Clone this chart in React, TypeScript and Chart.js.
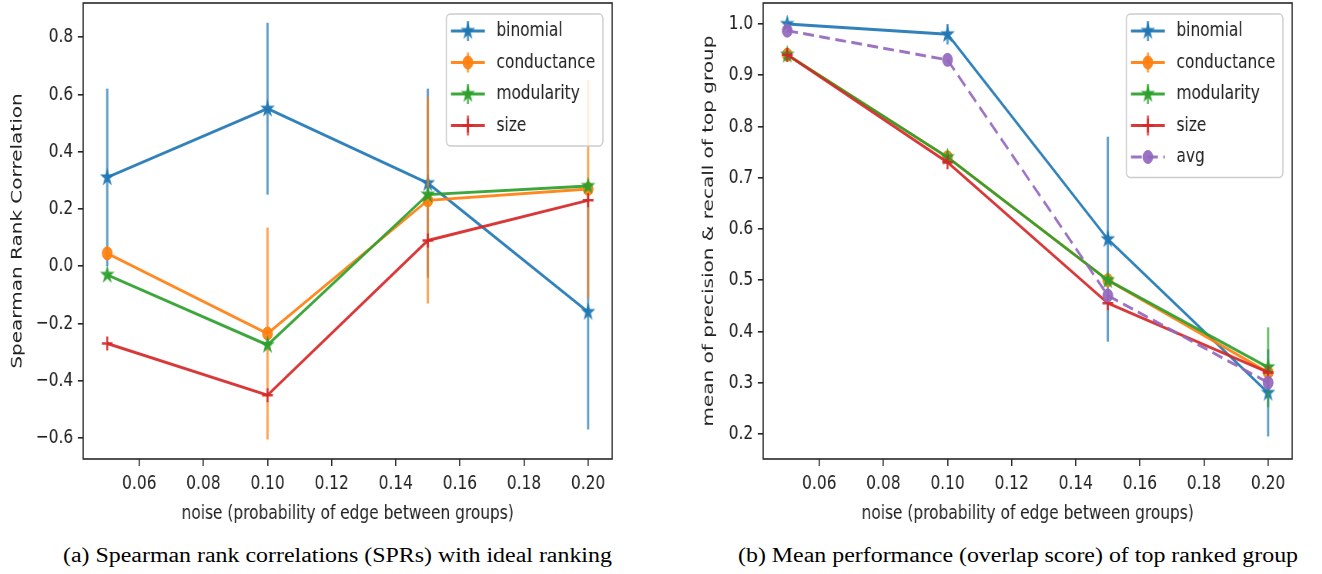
import React, { useEffect, useRef } from 'react';
import { Chart, registerables } from 'chart.js';

Chart.register(...registerables);

// horizontal squish of the reference figure
const SQUISH = 0.77;
const CANVAS_H = 530;

// ---------- data ----------
const noiseLevels = [0.05, 0.1, 0.15, 0.2];
const xTickStep = 0.02;

// (a) Spearman rank correlation
const sprBinomial = [0.31, 0.55, 0.29, -0.16];
const sprBinomialErr = [0.31, 0.3, 0.33, 0.41];
const sprConductance = [0.045, -0.235, 0.23, 0.27];
const sprConductanceErr = [0, 0.37, 0.36, 0.38];
const sprModularity = [-0.03, -0.275, 0.25, 0.28];
const sprModularityErr = [0, 0, 0, 0];
const sprSize = [-0.27, -0.45, 0.09, 0.23];
const sprSizeErr = [0, 0, 0, 0];
const sprYRange = [-0.673, 0.919];
const sprYStep = 0.2;

// (b) mean of precision & recall of top group
const perfBinomial = [1.0, 0.98, 0.58, 0.28];
const perfBinomialErr = [0, 0.02, 0.2, 0.085];
const perfConductance = [0.94, 0.74, 0.5, 0.32];
const perfConductanceErr = [0, 0, 0.005, 0.01];
const perfModularity = [0.94, 0.74, 0.5, 0.33];
const perfModularityErr = [0, 0, 0, 0.078];
const perfSize = [0.94, 0.73, 0.455, 0.32];
const perfSizeErr = [0, 0, 0, 0];
const perfAvg = [0.987, 0.93, 0.47, 0.3];
const perfYRange = [0.151, 1.041];
const perfYStep = 0.1;

const xRange = [0.0425, 0.2075];

const BLUE = '31,119,180';
const ORANGE = '255,127,14';
const GREEN = '44,160,44';
const RED = '214,39,40';
const PURPLE = '148,103,189';

const rgba = (c: string, a: number) => `rgba(${c},${a})`;
const FONT = '"DejaVu Sans", sans-serif';
const TEXT = '#222';

function starImage(color: string, R: number) {
  const size = Math.ceil(2 * R + 4);
  const c = document.createElement('canvas');
  c.width = size;
  c.height = size;
  const g = c.getContext('2d')!;
  g.translate(size / 2, size / 2);
  g.beginPath();
  for (let i = 0; i < 10; i++) {
    const r = i % 2 === 0 ? R : R * 0.381966;
    const a = -Math.PI / 2 + (i * Math.PI) / 5;
    g.lineTo(r * Math.cos(a), r * Math.sin(a));
  }
  g.closePath();
  g.fillStyle = color;
  g.fill();
  g.lineWidth = 1.5;
  g.strokeStyle = color;
  g.stroke();
  return c;
}

function fmtTick(v: number, d: number) {
  const s = Math.abs(v).toFixed(d);
  return v < -1e-9 ? '\u2212' + s : s;
}

function drawMarker(ctx: CanvasRenderingContext2D, ds: any, x: number, y: number) {
  const st = ds.pointStyle;
  if (st && typeof st === 'object') {
    ctx.drawImage(st, x - st.width / 2, y - st.height / 2);
    return;
  }
  ctx.save();
  ctx.fillStyle = ds.pointBackgroundColor;
  ctx.strokeStyle = ds.pointBorderColor;
  ctx.lineWidth = ds.pointBorderWidth;
  ctx.setLineDash([]);
  const r = ds.pointRadius;
  if (st === 'circle') {
    ctx.beginPath();
    ctx.arc(x, y, r, 0, Math.PI * 2);
    ctx.fill();
    ctx.stroke();
  } else if (st === 'cross') {
    ctx.beginPath();
    ctx.moveTo(x - r, y);
    ctx.lineTo(x + r, y);
    ctx.moveTo(x, y - r);
    ctx.lineTo(x, y + r);
    ctx.stroke();
  }
  ctx.restore();
}

const decorPlugin = {
  id: 'decor',
  beforeDatasetDraw(chart: any, args: any) {
    const ds = chart.data.datasets[args.index];
    const errs: number[] | undefined = ds.errs;
    if (!errs) return;
    const xs = chart.scales.x;
    const ys = chart.scales.y;
    const ctx = chart.ctx;
    ctx.save();
    ctx.strokeStyle = ds.errColor;
    ctx.lineWidth = 3;
    ds.data.forEach((p: any, i: number) => {
      const e = errs[i];
      if (!e) return;
      const px = xs.getPixelForValue(p.x);
      ctx.beginPath();
      ctx.moveTo(px, ys.getPixelForValue(p.y - e));
      ctx.lineTo(px, ys.getPixelForValue(p.y + e));
      ctx.stroke();
    });
    ctx.restore();
  },
  afterDraw(chart: any) {
    const ctx: CanvasRenderingContext2D = chart.ctx;
    const area = chart.chartArea;
    // frame (all four spines)
    ctx.save();
    ctx.strokeStyle = '#262626';
    ctx.lineWidth = 1.6;
    ctx.strokeRect(area.left, area.top, area.right - area.left, area.bottom - area.top);
    ctx.restore();

    // legend, upper right inside the axes
    const dss = chart.data.datasets;
    ctx.save();
    ctx.font = `20px ${FONT}`;
    const maxW = Math.max(...dss.map((d: any) => ctx.measureText(d.label).width));
    const padL = 6, handleLen = 44, gap = 15, padR = 10;
    const firstRow = 17, rowGap = 31.5, lastPad = 20.5;
    const w = padL + handleLen + gap + maxW + padR;
    const h = firstRow + (dss.length - 1) * rowGap + lastPad;
    const bx = area.right - 12 - w;
    const by = area.top + 11;
    ctx.beginPath();
    if ((ctx as any).roundRect) (ctx as any).roundRect(bx, by, w, h, 5);
    else ctx.rect(bx, by, w, h);
    ctx.fillStyle = 'rgba(255,255,255,0.8)';
    ctx.fill();
    ctx.strokeStyle = '#cccccc';
    ctx.lineWidth = 1.6;
    ctx.stroke();
    dss.forEach((ds: any, i: number) => {
      const y = by + firstRow + i * rowGap;
      const hx = bx + padL;
      const cx = hx + handleLen / 2;
      ctx.save();
      ctx.strokeStyle = ds.borderColor;
      ctx.lineWidth = 3;
      ctx.setLineDash(ds.borderDash || []);
      ctx.beginPath();
      ctx.moveTo(hx, y);
      ctx.lineTo(hx + handleLen, y);
      ctx.stroke();
      ctx.setLineDash([]);
      if (ds.errs) {
        ctx.strokeStyle = ds.errColor;
        ctx.beginPath();
        ctx.moveTo(cx, y - 10);
        ctx.lineTo(cx, y + 10);
        ctx.stroke();
      }
      ctx.restore();
      drawMarker(ctx, ds, cx, y);
      ctx.fillStyle = TEXT;
      ctx.textBaseline = 'middle';
      ctx.textAlign = 'left';
      ctx.fillText(ds.label, hx + handleLen + gap, y);
    });
    ctx.restore();
  },
};

type Series = {
  label: string;
  values: number[];
  errors?: number[];
  color: string;
  marker: 'star' | 'circle' | 'cross';
  dashed?: boolean;
};

function buildConfig(
  series: Series[],
  yRange: number[],
  yStep: number,
  yTitle: string,
  yTitlePad: number,
  padRight: number
): any {
  return {
    type: 'line',
    data: {
      datasets: series.map((s, i) => {
        const col = rgba(s.color, 0.92);
        const pointStyle =
          s.marker === 'star' ? starImage(col, 7.5) : s.marker === 'circle' ? 'circle' : 'cross';
        return {
          label: s.label,
          data: noiseLevels.map((x, j) => ({ x, y: s.values[j] })),
          errs: s.errors,
          errColor: rgba(s.color, 0.7),
          borderColor: col,
          backgroundColor: col,
          borderWidth: 3,
          borderDash: s.dashed ? [14, 7] : [],
          pointStyle,
          pointRadius: s.marker === 'circle' ? 6.5 : 7,
          pointBorderWidth: s.marker === 'cross' ? 2.5 : 1,
          pointBackgroundColor: col,
          pointBorderColor: col,
          tension: 0,
          fill: false,
          order: series.length - i,
        };
      }),
    },
    options: {
      responsive: false,
      maintainAspectRatio: false,
      animation: false,
      events: [],
      layout: { autoPadding: false, padding: { top: 3, right: padRight, left: 0, bottom: 0 } },
      plugins: { legend: { display: false }, tooltip: { enabled: false } },
      scales: {
        x: {
          type: 'linear',
          position: 'bottom',
          min: xRange[0],
          max: xRange[1],
          border: { display: false },
          grid: { drawOnChartArea: false, drawTicks: true, tickLength: 7, color: '#262626', lineWidth: 1.6 },
          ticks: {
            stepSize: xTickStep,
            includeBounds: false,
            autoSkip: false,
            maxRotation: 0,
            padding: 6,
            color: TEXT,
            font: { size: 20, family: FONT },
            callback: (v: number) => fmtTick(v, 2),
          },
          title: {
            display: true,
            text: 'noise (probability of edge between groups)',
            color: TEXT,
            font: { size: 20, family: FONT },
            padding: { top: 0, bottom: 4 },
          },
          afterFit: (scale: any) => {
            scale.height = 71;
            scale.paddingLeft = 0;
            scale.paddingRight = 0;
          },
        },
        y: {
          type: 'linear',
          position: 'left',
          min: yRange[0],
          max: yRange[1],
          border: { display: false },
          grid: { drawOnChartArea: false, drawTicks: true, tickLength: 7, color: '#262626', lineWidth: 1.6 },
          ticks: {
            stepSize: yStep,
            includeBounds: false,
            autoSkip: false,
            padding: 6,
            color: TEXT,
            font: { size: 20, family: FONT },
            callback: (v: number) => fmtTick(v, 1),
          },
          title: {
            display: true,
            text: yTitle,
            color: TEXT,
            font: { size: 20, family: FONT },
            padding: { top: yTitlePad, bottom: 0 },
          },
          afterFit: (scale: any) => {
            scale.width = 108;
            scale.paddingTop = 0;
            scale.paddingBottom = 0;
          },
        },
      },
    },
    plugins: [decorPlugin],
  };
}

function Panel({ left, width, make }: { left: number; width: number; make: () => any }) {
  const ref = useRef<HTMLCanvasElement>(null);
  useEffect(() => {
    const chart = new Chart(ref.current as HTMLCanvasElement, make());
    return () => chart.destroy();
  }, []);
  return (
    <canvas
      ref={ref}
      width={width}
      height={CANVAS_H}
      style={{
        position: 'absolute',
        left,
        top: 0,
        width,
        height: CANVAS_H,
        transform: `scaleX(${SQUISH})`,
        transformOrigin: '0 0',
      }}
    />
  );
}

const captionStyle: React.CSSProperties = {
  position: 'absolute',
  top: 543,
  fontFamily: '"Liberation Serif", "Times New Roman", serif',
  fontSize: 20,
  lineHeight: '24px',
  whiteSpace: 'nowrap',
  color: '#000',
  transform: 'scaleX(1.195)',
  transformOrigin: '0 0',
};

export default function App() {
  const makeLeft = () =>
    buildConfig(
      [
        { label: 'binomial', values: sprBinomial, errors: sprBinomialErr, color: BLUE, marker: 'star' },
        { label: 'conductance', values: sprConductance, errors: sprConductanceErr, color: ORANGE, marker: 'circle' },
        { label: 'modularity', values: sprModularity, errors: sprModularityErr, color: GREEN, marker: 'star' },
        { label: 'size', values: sprSize, errors: sprSizeErr, color: RED, marker: 'cross' },
      ],
      sprYRange,
      sprYStep,
      'Spearman Rank Correlation',
      11,
      37
    );
  const makeRight = () =>
    buildConfig(
      [
        { label: 'binomial', values: perfBinomial, errors: perfBinomialErr, color: BLUE, marker: 'star' },
        { label: 'conductance', values: perfConductance, errors: perfConductanceErr, color: ORANGE, marker: 'circle' },
        { label: 'modularity', values: perfModularity, errors: perfModularityErr, color: GREEN, marker: 'star' },
        { label: 'size', values: perfSize, errors: perfSizeErr, color: RED, marker: 'cross' },
        { label: 'avg', values: perfAvg, color: PURPLE, marker: 'circle', dashed: true },
      ],
      perfYRange,
      perfYStep,
      'mean of precision & recall of top group',
      26,
      39
    );
  return (
    <div
      style={{
        position: 'fixed',
        left: 0,
        top: 0,
        width: 1322,
        height: 574,
        background: '#fff',
        overflow: 'hidden',
      }}
    >
      <Panel left={0} width={832} make={makeLeft} />
      <Panel left={680} width={834} make={makeRight} />
      <div style={{ ...captionStyle, left: 63 }}>
        (a) Spearman rank correlations (SPRs) with ideal ranking
      </div>
      <div style={{ ...captionStyle, left: 738 }}>
        (b) Mean performance (overlap score) of top ranked group
      </div>
    </div>
  );
}
